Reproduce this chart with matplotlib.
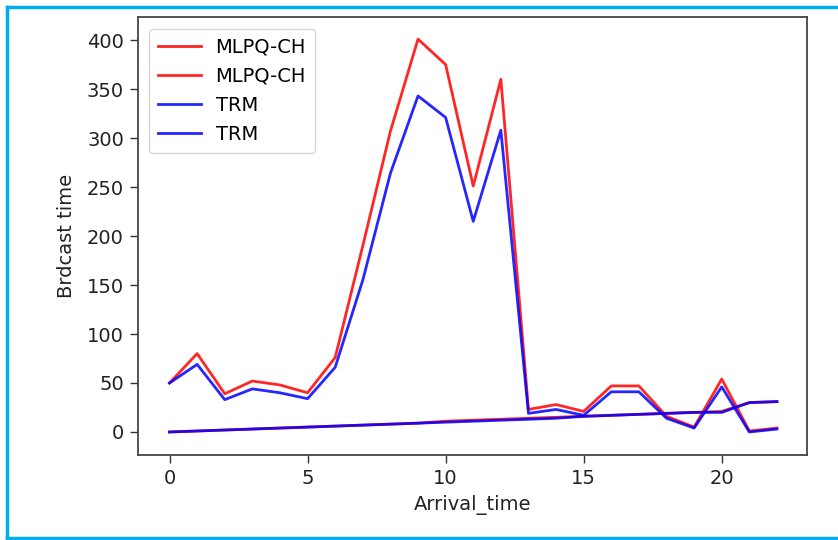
import matplotlib
matplotlib.use("Agg")
import matplotlib.pyplot as plt
from matplotlib.lines import Line2D

arrival = list(range(23))
mlpq_ch_brdcast = [50, 80, 39, 52, 48, 40, 76, 190, 307, 401, 375, 251, 360,
                   23, 28, 21, 47, 47, 16, 5, 54, 1, 4]
mlpq_ch_cumul = [0, 1, 2, 3, 4, 5, 6, 7, 8, 9, 11, 12, 13,
                 14, 15, 16, 17, 18, 19, 20, 21, 30, 31]
trm_brdcast = [50, 69, 33, 44, 40, 34, 66, 155, 264, 343, 321, 215, 308,
               19, 23, 17, 41, 41, 14, 4, 46, 0, 3]
trm_cumul = [0, 1, 2, 3, 4, 5, 6, 7, 8, 9, 10, 11, 12,
             13, 14, 16, 17, 18, 19, 20, 20, 30, 31]

labels = ["MLPQ-CH", "MLPQ-CH", "TRM", "TRM"]
xlabel = "Arrival_time"
ylabel = "Brdcast time"

plt.rcParams['font.family'] = ['DejaVu Sans']
fig = plt.figure(figsize=(8.38, 5.40), dpi=100)
ax = fig.add_axes([0.1644, 0.1574, 0.799, 0.811])

lw = 2.0
ax.plot(arrival, mlpq_ch_brdcast, color='red', alpha=0.85, lw=lw, label=labels[0])
ax.plot(arrival, mlpq_ch_cumul, color='red', alpha=0.85, lw=lw, label=labels[1])
ax.plot(arrival, trm_brdcast, color='blue', alpha=0.85, lw=lw, label=labels[2])
ax.plot(arrival, trm_cumul, color='blue', alpha=0.85, lw=lw, label=labels[3])

ax.set_xlim(-1.15, 23.1)
ax.set_ylim(-23.5, 423.5)
ax.set_xticks([0, 5, 10, 15, 20])
ax.set_yticks([0, 50, 100, 150, 200, 250, 300, 350, 400])
fs = 14
ax.tick_params(labelsize=fs, length=6, width=1, pad=4, colors='#333333', labelcolor='#222222')
for s in ax.spines.values():
    s.set_color('#444444')
    s.set_linewidth(1.3)
ax.set_xlabel(xlabel, fontsize=fs, color='#222222', labelpad=5)
ax.set_ylabel(ylabel, fontsize=fs, color='#222222', labelpad=8)
leg = ax.legend(loc='upper left', fontsize=fs, handlelength=2.2, borderpad=0.45,
                labelspacing=0.52, handletextpad=0.75, borderaxespad=0.6)
leg.get_frame().set_edgecolor('#cccccc')

# screenshot frame
c = '#00AEEF'
fig.add_artist(Line2D([7/838, 1.0], [1-7/540, 1-7/540], color=c, lw=2.5, transform=fig.transFigure))
fig.add_artist(Line2D([7/838, 7/838], [1-7/540, 1-538/540], color=c, lw=2.5, transform=fig.transFigure))
fig.add_artist(Line2D([7/838, 1.0], [1-538/540, 1-538/540], color=c, lw=2.5, transform=fig.transFigure))

fig.savefig("out.png", dpi=100)
